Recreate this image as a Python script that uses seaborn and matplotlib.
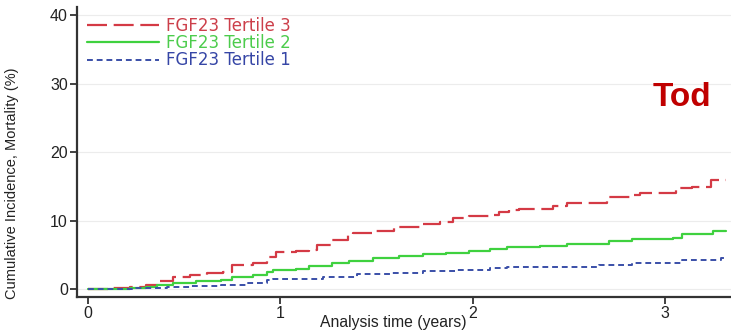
import matplotlib
matplotlib.use("Agg")
import matplotlib.pyplot as plt
import seaborn as sns
import pandas as pd

# Cumulative incidence of mortality (%) by FGF23 tertile, step times in years
t3_time = [0.00, 0.13, 0.22, 0.30, 0.37, 0.44, 0.53, 0.62, 0.70, 0.75, 0.86, 0.93,
           0.98, 1.08, 1.15, 1.19, 1.27, 1.35, 1.38, 1.48, 1.59, 1.62, 1.74, 1.83,
           1.90, 1.98, 2.09, 2.14, 2.19, 2.24, 2.42, 2.49, 2.70, 2.83, 2.87, 3.06,
           3.14, 3.24, 3.32]
t3_inc = [0.0, 0.2, 0.35, 0.6, 1.1, 1.8, 2.0, 2.3, 2.5, 3.5, 3.75, 4.7,
          5.4, 5.6, 5.7, 6.4, 7.1, 7.9, 8.2, 8.4, 8.9, 9.1, 9.5, 9.8,
          10.3, 10.6, 10.8, 11.3, 11.5, 11.7, 12.1, 12.5, 13.4, 13.7, 14.0, 14.7,
          14.9, 15.9, 15.9]

t2_time = [0.00, 0.22, 0.30, 0.36, 0.44, 0.56, 0.69, 0.75, 0.86, 0.93, 0.96, 1.08,
           1.15, 1.27, 1.36, 1.48, 1.62, 1.74, 1.86, 1.98, 2.09, 2.18, 2.35, 2.49,
           2.71, 2.83, 3.04, 3.09, 3.25, 3.32]
t2_inc = [0.0, 0.1, 0.3, 0.6, 0.9, 1.1, 1.3, 1.8, 2.1, 2.5, 2.8, 2.9,
          3.3, 3.75, 4.1, 4.5, 4.8, 5.1, 5.3, 5.6, 5.8, 6.1, 6.3, 6.6,
          7.05, 7.25, 7.45, 8.0, 8.5, 8.5]

t1_time = [0.00, 0.25, 0.41, 0.53, 0.69, 0.83, 0.93, 0.96, 1.22, 1.40, 1.57, 1.74,
           1.92, 2.09, 2.18, 2.31, 2.66, 2.83, 3.04, 3.09, 3.25, 3.29, 3.31]
t1_inc = [0.0, 0.15, 0.35, 0.45, 0.6, 0.85, 1.3, 1.45, 1.8, 2.2, 2.4, 2.6,
          2.8, 3.0, 3.2, 3.25, 3.5, 3.75, 3.85, 4.2, 4.3, 4.5, 4.5]

labels = ["FGF23 Tertile 3", "FGF23 Tertile 2", "FGF23 Tertile 1"]
x_ticks = [0, 1, 2, 3]
y_ticks = [0, 10, 20, 30, 40]

sns.set_theme(style="white")
plt.rcParams["font.family"] = ["Liberation Sans", "DejaVu Sans"]

W, H = 731, 332
fig = plt.figure(figsize=(W / 100, H / 100), dpi=100)
ax_l, ax_b, ax_t = 77, 297, 7
ax = fig.add_axes([ax_l / W, 1 - ax_b / H, 1 - ax_l / W, (ax_b - ax_t) / H])
ax_w, ax_h = W - ax_l, ax_b - ax_t

series = [
    (t3_time, t3_inc, labels[0], "#d43a45", (0, (9, 3)), 1.6),
    (t2_time, t2_inc, labels[1], "#3fd13f", "-", 1.6),
    (t1_time, t1_inc, labels[2], "#3a4fa8", (0, (3, 2)), 1.4),
]
text_colors = ["#cc3f4a", "#4ccc4c", "#3646a6"]

for tt, yy, lab, col, ls, lw in series:
    df = pd.DataFrame({"time": tt, "inc": yy})
    sns.lineplot(data=df, x="time", y="inc", ax=ax, color=col, linestyle=ls,
                 linewidth=lw, drawstyle="steps-post", label=lab, errorbar=None)

ax.set_xlim(-0.057, 3.344)
ax.set_ylim(-1.17, 41.2)
ax.set_xticks(x_ticks)
ax.set_yticks(y_ticks)
ax.tick_params(axis="both", direction="out", length=5, width=1.3, color="#333333",
               labelsize=11.5, labelcolor="#222222", pad=1.5, left=True, bottom=True)

for yv in y_ticks:
    ax.axhline(yv, color="#ececec", linewidth=0.8, zorder=0)

for side in ["top", "right"]:
    ax.spines[side].set_visible(False)
for side in ["left", "bottom"]:
    ax.spines[side].set_color("#333333")
    ax.spines[side].set_linewidth(1.6)

ax.set_xlabel("Analysis time (years)", fontsize=11.3, color="#222222")
ax.xaxis.label.set_verticalalignment("center")
ax.xaxis.set_label_coords((393 - ax_l) / ax_w, -(323 - ax_b) / ax_h)
ax.set_ylabel("Cumulative Incidence, Mortality (%)", fontsize=10.5, color="#222222")
ax.yaxis.label.set_verticalalignment("center")
ax.yaxis.set_label_coords(-(ax_l - 12) / ax_w, (ax_b - 183) / ax_h)

leg = ax.legend(loc="upper left", bbox_to_anchor=(0.0, 1.0), frameon=False,
                prop={"family": "DejaVu Sans", "size": 12},
                handlelength=4.3, handletextpad=0.42,
                labelspacing=-0.05, borderaxespad=0.3, borderpad=0.3)
for text, col in zip(leg.get_texts(), text_colors):
    text.set_color(col)

ax.text(653 / W, 1 - 106 / H, "Tod", transform=fig.transFigure,
        fontsize=24, fontweight="bold", color="#c00000", ha="left", va="baseline")

fig.savefig("out.png", dpi=100)
